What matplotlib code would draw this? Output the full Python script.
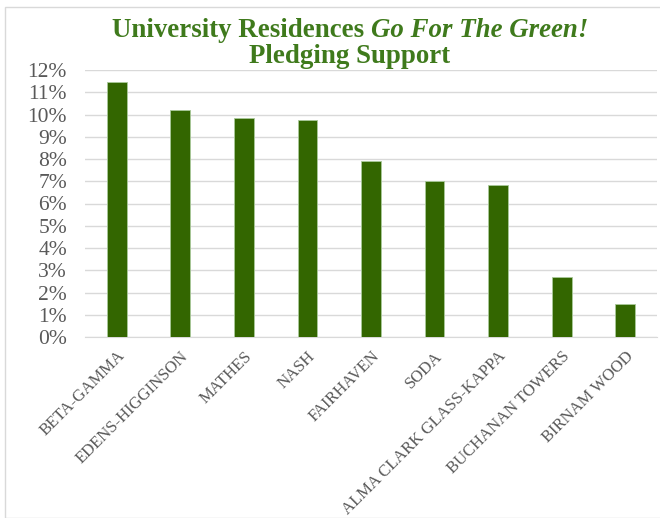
import matplotlib
matplotlib.use("Agg")
import matplotlib.pyplot as plt
from matplotlib.patches import Rectangle
from matplotlib.ticker import FuncFormatter

residences = ["BETA-GAMMA", "EDENS-HIGGINSON", "MATHES", "NASH", "FAIRHAVEN",
              "SODA", "ALMA CLARK GLASS-KAPPA", "BUCHANAN TOWERS", "BIRNAM WOOD"]
support = [11.44, 10.2, 9.83, 9.77, 7.9, 7.03, 6.81, 2.69, 1.5]
yticks = list(range(0, 13))

plt.rcParams['font.family'] = ['Liberation Serif', 'DejaVu Serif']
green = "#336600"
title_green = "#3f7a1c"
grey = "#595959"

fig = plt.figure(figsize=(6.6, 5.18), dpi=100)
ax = fig.add_axes([85/660, 1-337/518, 572/660, 267/518])

ax.bar(range(len(residences)), support, width=0.31, color=green,
       edgecolor="#a9c99a", linewidth=0.6, zorder=3)
ax.set_xlim(-0.5, len(residences) - 0.5)
ax.set_ylim(0, 12)
ax.set_yticks(yticks)
ax.yaxis.set_major_formatter(FuncFormatter(lambda v, p: "%d%%" % v))
ax.grid(axis="y", color="#d9d9d9", linewidth=1, zorder=0)
for s in ["top", "right", "left"]:
    ax.spines[s].set_visible(False)
ax.spines["bottom"].set_color("#d9d9d9")
ax.tick_params(axis="y", length=0, colors=grey, labelsize=15.5, pad=13)
ax.set_xticks(range(len(residences)))
ax.set_xticklabels(residences, rotation=45, ha="right", rotation_mode="anchor",
                   fontsize=12, color=grey)
ax.tick_params(axis="x", length=0, pad=8)

# title, first line mixes upright and italic
fs = 19.4
t1 = fig.text(0, 1-37/518, "University Residences ", fontsize=fs, fontweight="bold",
              color=title_green, ha="left", va="baseline")
t2 = fig.text(0, 1-37/518, "Go For The Green!", fontsize=fs, fontweight="bold",
              style="italic", color=title_green, ha="left", va="baseline")
fig.canvas.draw()
r = fig.canvas.get_renderer()
w1 = t1.get_window_extent(r).width
w2 = t2.get_window_extent(r).width
x0 = 350 - (w1 + w2) / 2
t1.set_x(x0 / 660)
t2.set_x((x0 + w1) / 660)
fig.text(350/660, 1-63/518, "Pledging Support", fontsize=fs, fontweight="bold",
         color=title_green, ha="center", va="baseline")

fig.patches.append(Rectangle((5/660, 0), 1, 1-7/518, transform=fig.transFigure,
                             fill=False, edgecolor="#d9d9d9", linewidth=1))

fig.savefig("out.png", dpi=100)
